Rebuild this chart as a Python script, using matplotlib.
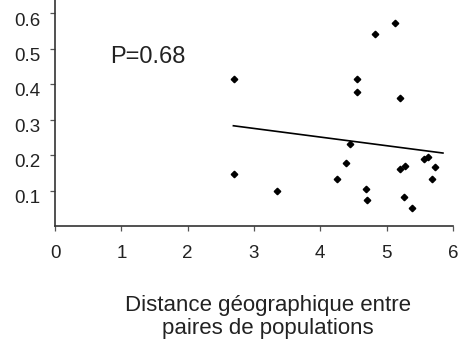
import matplotlib.pyplot as plt
import matplotlib.transforms as mtransforms

# distance between population pairs and the values on y
dist_x = [2.70, 2.70, 3.34, 4.25, 4.39, 4.45, 4.56, 4.56, 4.69, 4.71, 4.82,
          5.12, 5.20, 5.20, 5.28, 5.26, 5.39, 5.57, 5.63, 5.68, 5.73]
val_y = [0.414, 0.147, 0.100, 0.132, 0.179, 0.232, 0.416, 0.378, 0.104, 0.074, 0.543,
         0.574, 0.362, 0.161, 0.168, 0.083, 0.050, 0.189, 0.196, 0.134, 0.167]

# regression line end points
fit_x = [2.69, 5.85]
fit_y = [0.283, 0.206]

x_ticks = [0, 1, 2, 3, 4, 5, 6]
y_ticks = [0.1, 0.2, 0.3, 0.4, 0.5, 0.6]

plt.rcParams['font.family'] = ['Liberation Sans', 'DejaVu Sans']

fig = plt.figure(figsize=(4.67, 3.44), dpi=100)
ax = fig.add_axes([0.1178, 0.343, 0.852, 0.657])

ax.plot(dist_x, val_y, linestyle='none', marker='D', markersize=3.3, color='black')
ax.plot(fit_x, fit_y, color='black', linewidth=1.2)

ax.text(0.83, 0.476, "P=0.68", fontsize=17, color='#222222', va='center', ha='left')

ax.set_xlim(0, 6)
ax.set_ylim(0, 0.638)
ax.set_xticks(x_ticks)
ax.set_yticks(y_ticks)
ax.set_yticklabels([str(v) for v in y_ticks])

for s in ['top', 'right']:
    ax.spines[s].set_visible(False)
for s in ['left', 'bottom']:
    ax.spines[s].set_color('#333333')
    ax.spines[s].set_linewidth(1.2)

ax.tick_params(axis='both', direction='out', length=3.5, width=0.9, color='#555555',
               labelsize=13.5, labelcolor='#222222')
ax.tick_params(axis='x', pad=10.5)
ax.tick_params(axis='y', pad=7)

# y labels sit a bit below their ticks in the original
offset = mtransforms.ScaledTranslation(0, -4 / 72, fig.dpi_scale_trans)
for lab in ax.get_yticklabels():
    lab.set_transform(lab.get_transform() + offset)

fig.text(0.573, 0.0785, "Distance géographique entre\npaires de populations",
         ha='center', va='center', fontsize=16, color='#222222', linespacing=1.18)

plt.savefig("out.png", dpi=100)
